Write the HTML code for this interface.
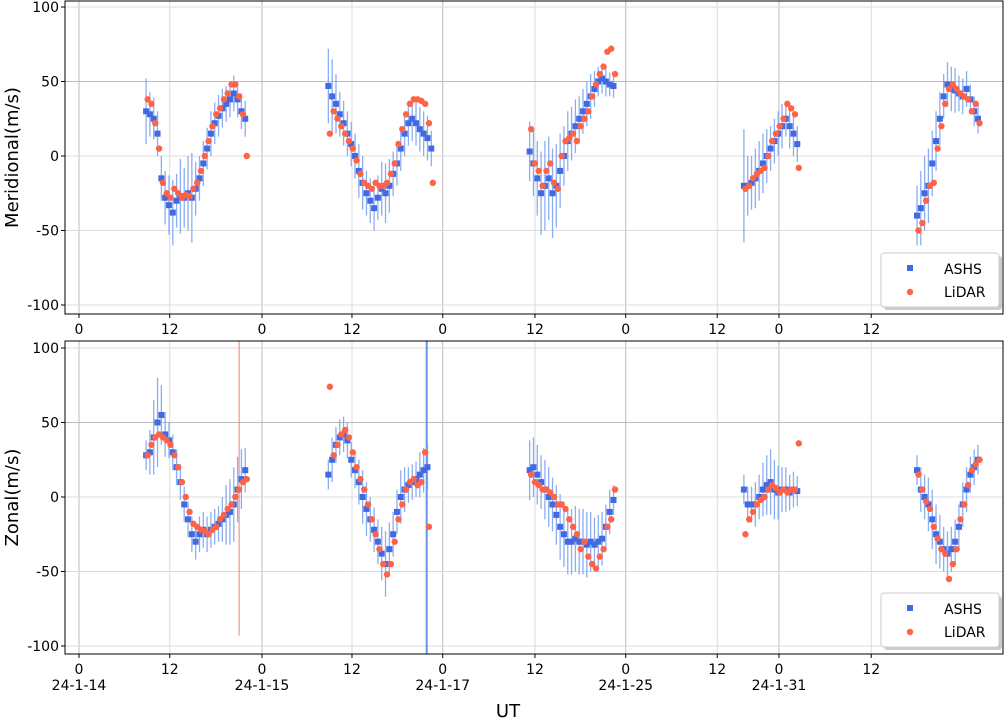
<!DOCTYPE html>
<html><head><meta charset="utf-8"><style>
body{margin:0;background:#fff;}
svg text{font-family:"DejaVu Sans","Liberation Sans",sans-serif;}
</style></head><body>
<svg id="chart" width="1008" height="718" xmlns="http://www.w3.org/2000/svg"></svg>
<script>
// x tick positions (hours) and labels
const tickHours=[0,11.9,24,35.8,47.7,59.8,71.7,83.7,91.8,103.9];
const tickLabels=["0","12","0","12","0","12","0","12","0","12"];
const dateHours=[0,24,47.7,71.7,91.8];
const dateLabels=["24-1-14","24-1-15","24-1-17","24-1-25","24-1-31"];
const yTicks=[-100,-50,0,50,100];
// segments: start hour, step 0.5h
const segStarts=[8.8,32.7,59.1,87.2,109.9];
// Meridional
const merASHS=[
[30,28,25,15,-15,-28,-33,-38,-30,-27,-28,-25,-28,-22,-15,-5,5,15,22,27,32,35,38,42,38,30,25],
[47,40,35,28,22,15,8,0,-10,-18,-25,-30,-35,-28,-22,-25,-20,-12,-5,5,15,22,25,22,18,15,12,5],
[3,-5,-15,-25,-20,-15,-25,-20,-10,0,10,15,20,25,30,35,40,45,50,52,50,48,47],
[-20,-20,-18,-15,-10,-5,0,5,10,15,20,25,20,15,8],
[-40,-35,-25,-20,-5,10,25,40,48,45,44,42,40,45,38,30,25]];
const merErr=[
[22,15,14,15,15,18,20,22,18,25,20,25,30,18,15,15,14,15,14,14,13,12,12,12,12,12,12],
[25,25,20,15,15,15,15,15,18,18,15,15,15,15,18,20,18,15,15,15,15,15,15,15,15,15,15,12],
[20,22,25,28,30,28,30,28,25,20,20,18,18,15,15,15,15,12,10,10,10,8,8],
[38,20,18,20,20,20,18,15,15,15,15,12,15,15,12],
[20,25,25,25,22,20,18,15,15,15,15,12,12,12,10,10,10]];
const merLiDAR=[
[38,35,22,5,-18,-25,-28,-22,-25,-28,-26,-27,-22,-18,-10,0,10,20,28,32,38,42,48,48,40,28,0],
[15,30,25,20,15,10,5,-3,-12,-18,-20,-22,-18,-20,-20,-18,-12,-5,8,18,28,35,38,38,37,35,22,-18],
[18,-5,-10,-20,-10,-5,-18,-22,0,10,12,15,10,20,25,30,40,48,55,60,70,72,55],
[-22,-20,-15,-12,-10,-8,0,10,15,20,25,35,32,28,-8],
[-50,-45,-30,-20,-18,5,20,35,45,48,45,42,40,38,30,35,22]];
// Zonal
const zonASHS=[
[28,30,40,50,55,42,38,30,20,10,-5,-15,-25,-30,-25,-22,-25,-22,-20,-18,-15,-12,-10,-5,5,12,18],
[15,25,35,40,42,38,25,18,10,0,-8,-15,-22,-30,-38,-45,-35,-25,-10,0,5,8,10,12,15,18,20],
[18,20,15,10,5,0,-5,-12,-20,-25,-30,-30,-28,-30,-30,-32,-30,-32,-30,-28,-20,-10,-2],
[5,-5,-5,-5,0,5,8,10,5,3,5,5,3,5,4],
[18,5,0,-5,-15,-25,-30,-35,-38,-35,-30,-20,-5,5,15,20,25]];
const zonErr=[
[10,15,25,30,20,15,12,12,12,12,12,12,12,12,12,12,12,12,12,12,15,20,22,25,22,20,15],
[10,15,12,12,12,12,12,12,15,18,18,15,15,15,18,22,18,15,15,18,15,12,12,12,15,15,15],
[20,20,20,18,20,20,18,20,22,22,22,22,22,22,22,22,20,18,18,18,15,15,10],
[10,12,12,15,15,18,20,22,20,18,15,15,12,12,10],
[10,15,15,18,20,20,18,15,15,15,15,15,15,15,12,12,10]];
const zonLiDAR=[
[28,35,40,42,40,38,35,28,20,10,0,-10,-18,-20,-22,-23,-25,-22,-20,-15,-12,-8,-5,0,5,10,12],
[74,28,35,42,45,40,30,20,12,5,-5,-15,-25,-35,-45,-52,-45,-30,-15,-5,5,10,12,8,10,30,-20],
[15,10,8,5,5,3,0,-5,-5,-8,-15,-20,-25,-35,-30,-40,-45,-48,-40,-35,-20,-15,5],
[-25,-15,-10,-5,-2,0,5,8,6,3,5,3,5,5,36],
[15,5,-3,-8,-20,-28,-35,-38,-55,-45,-35,-15,-5,8,18,22,25]];
const step=0.5;

const svg=document.getElementById('chart');
const NS='http://www.w3.org/2000/svg';
function mk(tag,attrs,parent){const e=document.createElementNS(NS,tag);for(const k in attrs)e.setAttribute(k,attrs[k]);(parent||svg).appendChild(e);return e;}
const X0=65,X1=1003;
function xs(h){return 79+7.625*h;}
const panels=[{top:1,bot:314,zero:156,name:'meridional',label:'Meridional(m/s)',A:merASHS,E:merErr,L:merLiDAR},
              {top:341,bot:654,zero:497,name:'zonal',label:'Zonal(m/s)',A:zonASHS,E:zonErr,L:zonLiDAR}];
panels.forEach((p,pi)=>{
  const ys=v=>p.zero-v*1.49;
  const g=mk('g',{});
  
  
  mk('rect',{x:X0,y:p.top,width:X1-X0,height:p.bot-p.top,fill:'#fff'},g);
  // grid
  tickHours.forEach((h,i)=>{
    const l=mk('line',{x1:xs(h),x2:xs(h),y1:p.top,y2:p.bot,stroke:tickLabels[i]==='0'?'#bdbdbd':'#dcdcdc','stroke-width':1},g);
    
    
  });
  yTicks.forEach(v=>{
    const l=mk('line',{x1:X0,x2:X1,y1:ys(v),y2:ys(v),stroke:v===50?'#bdbdbd':'#dcdcdc','stroke-width':1},g);
    
    
    const t=mk('text',{x:X0-6,y:ys(v)+5,'text-anchor':'end','font-size':14,fill:'#000'},g);
    t.textContent=String(v);
    
    
    mk('line',{x1:X0-4,x2:X0,y1:ys(v),y2:ys(v),stroke:'#000'},g);
  });
  tickHours.forEach((h,i)=>{
    mk('line',{x1:xs(h),x2:xs(h),y1:p.bot,y2:p.bot+4,stroke:'#000'},g);
    const t=mk('text',{x:xs(h),y:p.bot+20,'text-anchor':'middle','font-size':14,fill:'#000'},g);
    t.textContent=tickLabels[i];
    
    
  });
  if(pi===1){
    // special vertical lines
    const r=mk('line',{x1:xs(21),x2:xs(21),y1:ys(-93),y2:p.top,stroke:'#f08070','stroke-width':1},g);
    
    
    const b=mk('line',{x1:xs(45.6),x2:xs(45.6),y1:p.bot,y2:p.top,stroke:'#6495ed','stroke-width':2},g);
    
    
  }
  // series
  p.A.forEach((arr,si)=>{
    arr.forEach((v,i)=>{
      const h=segStarts[si]+i*step, e=p.E[si][i];
      const l=mk('line',{x1:xs(h),x2:xs(h),y1:ys(v-e),y2:ys(v+e),stroke:'#6f9bf0','stroke-width':1.3,opacity:0.8},g);
      
      
    });
  });
  p.A.forEach((arr,si)=>{
    arr.forEach((v,i)=>{
      const h=segStarts[si]+i*step;
      const r=mk('rect',{x:xs(h)-3,y:ys(v)-3,width:6,height:6,fill:'#4169e1'},g);
      
      
    });
  });
  p.L.forEach((arr,si)=>{
    arr.forEach((v,i)=>{
      const h=segStarts[si]+0.2+i*step;
      const c=mk('circle',{cx:xs(h),cy:ys(v),r:3.2,fill:'#ff6347'},g);
      
      
    });
  });
  mk('rect',{x:X0,y:p.top,width:X1-X0,height:p.bot-p.top,fill:'none',stroke:'#000','stroke-width':1},g);
  // y label
  const yl=mk('text',{x:0,y:0,'text-anchor':'middle','font-size':18,transform:`translate(18,${(p.top+p.bot)/2}) rotate(-90)`},g);
  yl.textContent=p.label;
  
  
  // legend
  const lg=mk('g',{},g);
  
  
  const ly=p.bot-61;
  mk('rect',{x:884,y:ly+3,width:118,height:54,rx:3,fill:'#999',opacity:0.5},lg);
  mk('rect',{x:881,y:ly,width:118,height:54,rx:3,fill:'#fff',stroke:'#ccc'},lg);
  const e1=mk('g',{},lg);
  
  
  mk('rect',{x:907,y:ly+12,width:6,height:6,fill:'#4169e1'},e1);
  mk('text',{x:944,y:ly+21,'font-size':14},e1).textContent='ASHS';
  const e2=mk('g',{},lg);
  
  
  mk('circle',{cx:910,cy:ly+39,r:3.2,fill:'#ff6347'},e2);
  mk('text',{x:944,y:ly+44,'font-size':14},e2).textContent='LiDAR';
});
dateHours.forEach((h,i)=>{
  const t=mk('text',{x:xs(h),y:690,'text-anchor':'middle','font-size':14});
  t.textContent=dateLabels[i];
  
  
});
const ut=mk('text',{x:508,y:717,'text-anchor':'middle','font-size':18});
ut.textContent='UT';


</script>
</body></html>
